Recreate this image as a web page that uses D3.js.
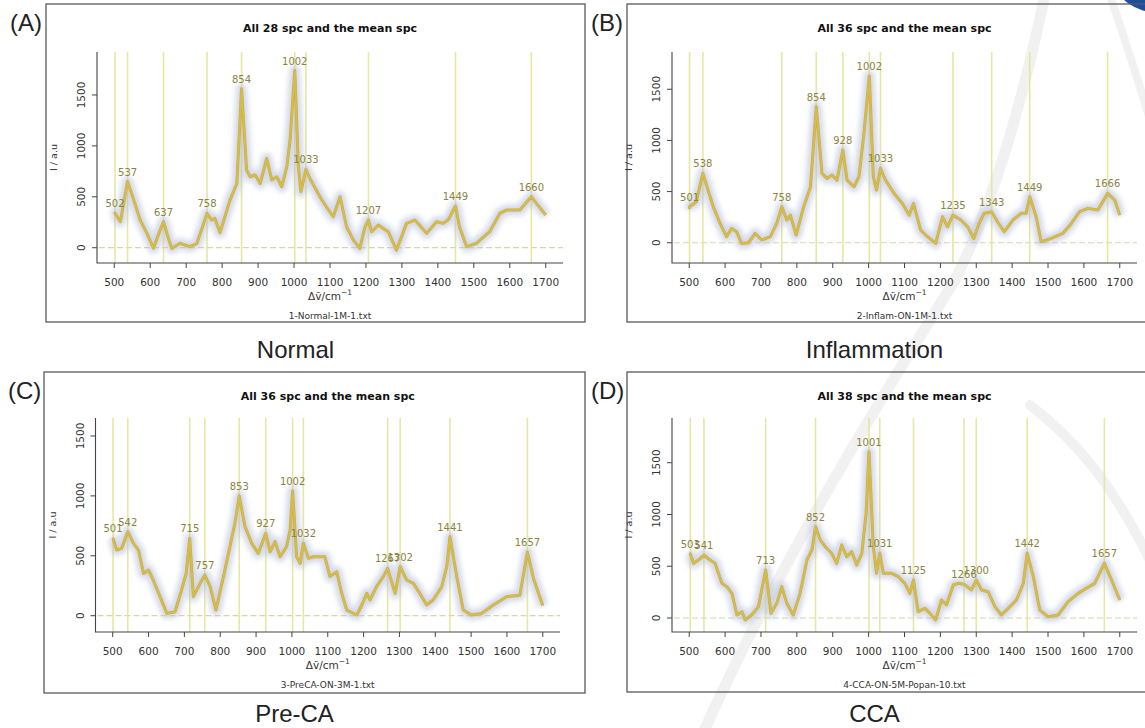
<!DOCTYPE html>
<html>
<head>
<meta charset="utf-8">
<script src="https://cdn.jsdelivr.net/npm/d3@7"></script>
<style>
  body { margin: 0; background: #fff; }
  svg { display: block; }
</style>
</head>
<body>
<svg id="fig" width="1145" height="728"></svg>
<script>
// ---- Raman shift ticks and intensity ticks ----
const shiftTicks = [500, 600, 700, 800, 900, 1000, 1100, 1200, 1300, 1400, 1500, 1600, 1700];
const intensityTicks = [0, 500, 1000, 1500];

// ---- Normal (mean spectrum) ----
const normalShift = [500, 502, 517, 537, 555, 572, 591, 609, 625, 637, 648, 660, 683, 711, 730, 745, 758, 771, 780, 794, 822, 841, 854, 868, 878, 892, 906, 924, 938, 952, 966, 980, 989, 1002, 1012, 1019, 1033, 1044, 1072, 1090, 1109, 1128, 1146, 1165, 1183, 1197, 1207, 1216, 1234, 1262, 1285, 1313, 1336, 1369, 1396, 1415, 1430, 1449, 1460, 1480, 1507, 1544, 1572, 1591, 1628, 1660, 1674, 1700];
const normalMean = [330, 340, 255, 650, 460, 272, 141, -5, 150, 255, 120, -7, 43, 10, 43, 200, 337, 272, 288, 147, 468, 632, 1560, 763, 697, 714, 632, 877, 665, 697, 599, 796, 1058, 1740, 796, 550, 770, 680, 501, 400, 305, 501, 206, 75, -7, 200, 272, 157, 223, 157, -23, 239, 272, 141, 255, 239, 280, 410, 206, 10, 43, 157, 337, 370, 370, 501, 436, 321];
const normalPeaks = [502, 537, 637, 758, 854, 1002, 1033, 1207, 1449, 1660];

// ---- Inflammation ----
const inflamShift = [500, 501, 520, 538, 567, 586, 604, 618, 632, 646, 665, 684, 702, 726, 744, 758, 772, 782, 798, 819, 838, 854, 870, 884, 898, 912, 928, 940, 959, 973, 987, 1002, 1013, 1022, 1033, 1047, 1071, 1094, 1113, 1125, 1145, 1164, 1187, 1206, 1220, 1235, 1257, 1276, 1293, 1308, 1322, 1343, 1360, 1378, 1402, 1425, 1439, 1449, 1467, 1481, 1509, 1541, 1565, 1588, 1611, 1639, 1666, 1686, 1700];
const inflamMean = [330, 352, 401, 678, 352, 189, 59, 140, 108, -7, 0, 91, 26, 59, 189, 352, 222, 270, 75, 352, 547, 1330, 678, 629, 661, 612, 906, 612, 547, 645, 1069, 1630, 645, 515, 727, 612, 482, 384, 270, 384, 124, 59, -7, 254, 156, 270, 222, 156, 42, 189, 287, 300, 200, 108, 222, 287, 287, 450, 254, 10, 42, 91, 189, 303, 336, 319, 482, 417, 270];
const inflamPeaks = [501, 538, 758, 854, 928, 1002, 1033, 1235, 1343, 1449, 1666];

// ---- Pre-CA ----
const precaShift = [500, 501, 511, 525, 542, 558, 572, 586, 600, 613, 632, 651, 674, 692, 705, 715, 725, 744, 757, 772, 788, 809, 827, 841, 853, 869, 888, 906, 927, 939, 953, 967, 985, 995, 1002, 1013, 1023, 1032, 1046, 1060, 1092, 1106, 1125, 1139, 1153, 1181, 1195, 1209, 1218, 1236, 1255, 1267, 1288, 1302, 1320, 1339, 1357, 1376, 1394, 1418, 1432, 1441, 1460, 1478, 1501, 1529, 1562, 1599, 1636, 1657, 1675, 1700];
const precaMean = [650, 645, 548, 562, 701, 604, 548, 353, 381, 298, 159, 19, 33, 214, 353, 645, 159, 270, 339, 242, 47, 326, 576, 771, 1000, 743, 604, 520, 687, 534, 618, 492, 576, 715, 1040, 492, 437, 604, 479, 492, 492, 326, 367, 186, 47, 6, 89, 186, 131, 242, 326, 395, 186, 409, 298, 270, 186, 89, 131, 242, 409, 659, 326, 47, 6, 19, 89, 159, 170, 530, 300, 85];
const precaPeaks = [501, 542, 715, 757, 853, 927, 1002, 1032, 1267, 1302, 1441, 1657];

// ---- CCA ----
const ccaShift = [500, 503, 512, 526, 541, 558, 572, 591, 605, 619, 633, 647, 656, 674, 693, 713, 728, 744, 758, 772, 790, 809, 828, 842, 852, 865, 879, 897, 911, 925, 939, 953, 967, 981, 993, 1001, 1013, 1022, 1031, 1041, 1064, 1083, 1101, 1115, 1125, 1138, 1157, 1171, 1187, 1203, 1217, 1236, 1250, 1266, 1287, 1300, 1315, 1333, 1352, 1370, 1389, 1412, 1431, 1442, 1459, 1477, 1500, 1528, 1556, 1584, 1607, 1630, 1657, 1677, 1700];
const ccaMean = [625, 620, 528, 560, 609, 560, 528, 335, 303, 238, 29, 61, -19, 29, 110, 464, 45, 142, 303, 142, 29, 238, 560, 657, 882, 754, 689, 625, 528, 705, 593, 641, 512, 625, 1011, 1607, 689, 432, 625, 432, 432, 399, 335, 238, 367, 61, 93, 45, -19, 174, 126, 319, 335, 325, 271, 367, 271, 254, 110, 29, 93, 174, 335, 625, 399, 77, 13, 29, 158, 238, 287, 335, 528, 367, 174];
const ccaPeaks = [503, 541, 713, 852, 1001, 1031, 1125, 1266, 1300, 1442, 1657];

// ---- panel layout ----
const panels = [
  { tag: "(A)", group: "Normal", title: "All 28 spc and the mean spc", file: "1-Normal-1M-1.txt",
    shift: normalShift, mean: normalMean, peaks: normalPeaks,
    frame: [46, 4, 539, 318], plot: [97, 52, 563, 263], yDomain: [-150, 1922], groupY: 358 },
  { tag: "(B)", group: "Inflammation", title: "All 36 spc and the mean spc", file: "2-Inflam-ON-1M-1.txt",
    shift: inflamShift, mean: inflamMean, peaks: inflamPeaks,
    frame: [627, 4, 545, 318], plot: [672, 52, 1137, 263], yDomain: [-198, 1864], groupY: 358 },
  { tag: "(C)", group: "Pre-CA", title: "All 36 spc and the mean spc", file: "3-PreCA-ON-3M-1.txt",
    shift: precaShift, mean: precaMean, peaks: precaPeaks,
    frame: [44, 372, 541, 321], plot: [95.5, 418, 560, 632], yDomain: [-136, 1650], groupY: 722 },
  { tag: "(D)", group: "CCA", title: "All 38 spc and the mean spc", file: "4-CCA-ON-5M-Popan-10.txt",
    shift: ccaShift, mean: ccaMean, peaks: ccaPeaks,
    frame: [627, 372, 545, 320], plot: [672, 418, 1137, 632], yDomain: [-135, 1932], groupY: 722 }
];

const svg = d3.select("#fig");
const defs = svg.append("defs");
defs.append("filter").attr("id", "haze").attr("x", "-5%").attr("y", "-20%").attr("width", "110%").attr("height", "140%")
  .append("feGaussianBlur").attr("stdDeviation", 2.4);

svg.append("rect").attr("width", 1145).attr("height", 728).attr("fill", "#fff");

// faint background emblem strokes
const emblem = svg.append("g").attr("fill", "none").attr("stroke", "#f1f1f1").attr("stroke-linecap", "round");
emblem.append("path").attr("d", "M700,740 C780,560 880,400 955,280 C995,200 1025,90 1045,-5").attr("stroke-width", 11);
emblem.append("path").attr("d", "M1030,405 C1075,440 1110,480 1150,560").attr("stroke-width", 10);
emblem.append("path").attr("d", "M1110,-5 C1125,40 1138,80 1150,120").attr("stroke-width", 8);

// corner logo
svg.append("ellipse").attr("cx", 1160).attr("cy", -20).attr("rx", 49).attr("ry", 37).attr("fill", "#fff");
svg.append("ellipse").attr("cx", 1160).attr("cy", -20).attr("rx", 45).attr("ry", 33).attr("fill", "#1f4e9e");

const sans = "'DejaVu Sans', Verdana, sans-serif";
const arial = "'Liberation Sans', Arial, sans-serif";

panels.forEach(p => {
  const [fx, fy, fw, fh] = p.frame;
  const [left, top, right, bottom] = p.plot;
  const g = svg.append("g");

  // frame
  g.append("rect").attr("x", fx).attr("y", fy).attr("width", fw).attr("height", fh)
    .attr("fill", "none").attr("stroke", "#5a5a5a").attr("stroke-width", 1.3);

  // panel tag and group name
  svg.append("text").attr("x", fx - 36).attr("y", fy + 27).attr("font-family", arial)
    .attr("font-size", 24).attr("fill", "#222").text(p.tag);
  svg.append("text").attr("x", fx + fw / 2 - 20 + (p.tag === "(B)" || p.tag === "(D)" ? -5 : 0)).attr("y", p.groupY)
    .attr("font-family", arial).attr("font-size", 24).attr("fill", "#222").attr("text-anchor", "middle").text(p.group);

  const x = d3.scaleLinear().domain([452, 1748]).range([left, right]);
  const y = d3.scaleLinear().domain(p.yDomain).range([bottom, top]);
  const cx = (left + right) / 2;

  // title
  g.append("text").attr("x", cx).attr("y", fy + 28).attr("text-anchor", "middle")
    .attr("font-family", sans).attr("font-weight", "bold").attr("font-size", 11).attr("fill", "#111")
    .text(p.title);

  // zero line
  g.append("line").attr("x1", left + 2).attr("x2", right).attr("y1", y(0)).attr("y2", y(0))
    .attr("stroke", "#d4d6b0").attr("stroke-width", 1.2).attr("stroke-dasharray", "6,3");

  // peak marker lines
  g.selectAll(".peakline").data(p.peaks).join("line")
    .attr("x1", d => x(d)).attr("x2", d => x(d)).attr("y1", top).attr("y2", bottom)
    .attr("stroke", "#e2e394").attr("stroke-width", 1.6).attr("opacity", 0.85);

  const line = d3.line().x((d, i) => x(p.shift[i])).y(d => y(d)).curve(d3.curveLinear);

  // spread of the individual spectra
  g.append("path").attr("d", line(p.mean)).attr("fill", "none")
    .attr("stroke", "#aab6d4").attr("stroke-width", 12).attr("stroke-linejoin", "round")
    .attr("opacity", 0.35).attr("filter", "url(#haze)");
  g.append("path").attr("d", line(p.mean)).attr("fill", "none")
    .attr("stroke", "#bcc5dc").attr("stroke-width", 6).attr("stroke-linejoin", "round")
    .attr("opacity", 0.45).attr("filter", "url(#haze)");

  // mean spectrum
  g.append("path").attr("d", line(p.mean)).attr("fill", "none")
    .attr("stroke", "#e3a534").attr("stroke-width", 3).attr("stroke-linejoin", "round");
  g.append("path").attr("d", line(p.mean)).attr("fill", "none")
    .attr("stroke", "#c6c65a").attr("stroke-width", 2).attr("stroke-linejoin", "round").attr("opacity", 0.8);

  // peak labels
  const interp = v => {
    const i = d3.bisectLeft(p.shift, v);
    if (p.shift[i] === v) return p.mean[i];
    const a = i - 1, b = i;
    const t = (v - p.shift[a]) / (p.shift[b] - p.shift[a]);
    return p.mean[a] + t * (p.mean[b] - p.mean[a]);
  };
  g.selectAll(".peaklabel").data(p.peaks).join("text")
    .attr("x", d => x(d)).attr("y", d => y(interp(d)) - 6)
    .attr("text-anchor", "middle").attr("font-family", sans).attr("font-size", 10)
    .attr("fill", "#8a8242").text(d => d);

  // axes (L-shaped box)
  g.append("path").attr("d", `M${left},${top}V${bottom}H${right}`)
    .attr("fill", "none").attr("stroke", "#444").attr("stroke-width", 1.1);

  g.selectAll(".xt").data(shiftTicks).join("line")
    .attr("x1", d => x(d)).attr("x2", d => x(d)).attr("y1", bottom).attr("y2", bottom + 5)
    .attr("stroke", "#444").attr("stroke-width", 1);
  g.selectAll(".xl").data(shiftTicks).join("text")
    .attr("x", d => x(d)).attr("y", bottom + 23).attr("text-anchor", "middle")
    .attr("font-family", sans).attr("font-size", 10.5).attr("fill", "#333").text(d => d);

  g.selectAll(".yt").data(intensityTicks).join("line")
    .attr("x1", left - 5).attr("x2", left).attr("y1", d => y(d)).attr("y2", d => y(d))
    .attr("stroke", "#444").attr("stroke-width", 1);
  g.selectAll(".yl").data(intensityTicks).join("text")
    .attr("transform", d => `translate(${left - 12},${y(d)}) rotate(-90)`)
    .attr("text-anchor", "middle").attr("font-family", sans).attr("font-size", 10.5).attr("fill", "#333")
    .text(d => d);

  // axis titles
  const xl = g.append("text").attr("x", cx).attr("y", bottom + 37).attr("text-anchor", "middle")
    .attr("font-family", sans).attr("font-size", 10.5).attr("fill", "#333");
  xl.append("tspan").text("\u0394\u1E7D/cm");
  xl.append("tspan").attr("font-size", 7.5).attr("dy", -5).text("\u22121");

  g.append("text").attr("transform", `translate(${left - 40},${(top + bottom) / 2}) rotate(-90)`)
    .attr("text-anchor", "middle").attr("font-family", sans).attr("font-size", 9.5).attr("fill", "#333")
    .text("I / a.u");

  g.append("text").attr("x", cx).attr("y", bottom + 56).attr("text-anchor", "middle")
    .attr("font-family", sans).attr("font-size", 9).attr("fill", "#333").text(p.file);
});
</script>
</body>
</html>
